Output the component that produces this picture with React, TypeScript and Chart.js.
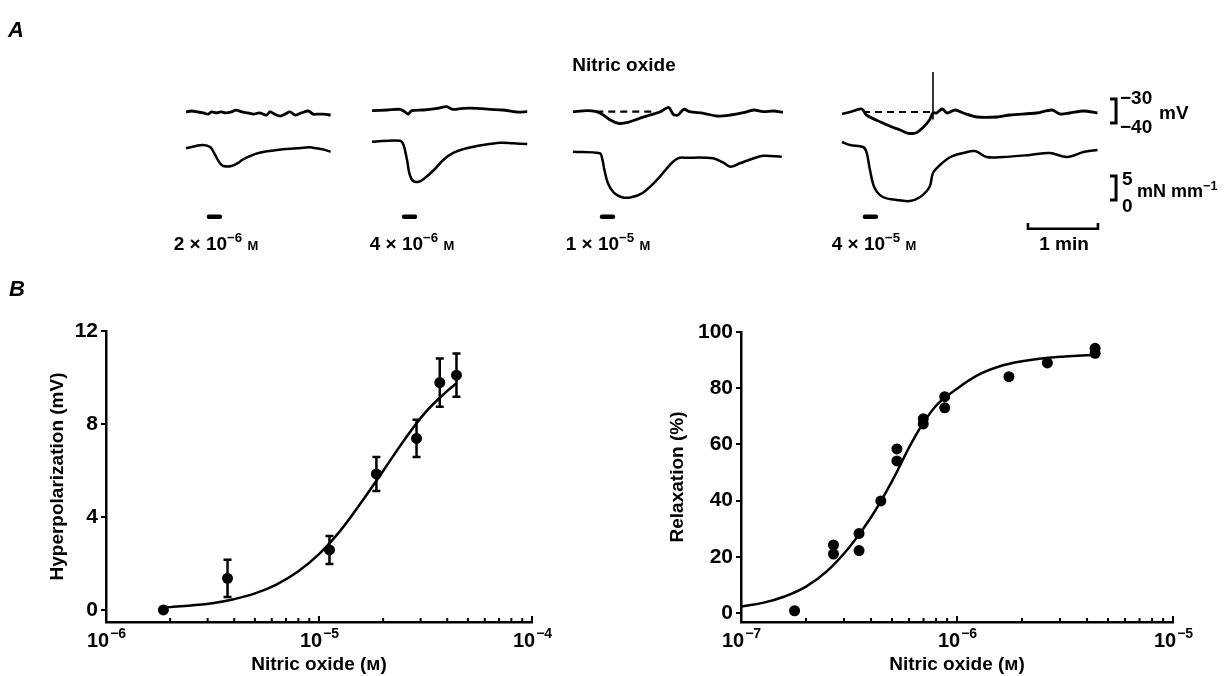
import React, { useEffect, useRef } from "react";
import { Chart, registerables } from "chart.js";

Chart.register(...registerables);

const FONT = "'Liberation Sans', Arial, Helvetica, sans-serif";
const WEIGHT = "bold";

// ---------------- Panel A : recordings (time in s, membrane potential in mV, tension in mN mm^-1) ----------------
const recStartSec = [159.4, 318.9, 491.1, 721.7];
const recDoseLabels = [
  ["2", "6"],
  ["4", "6"],
  ["1", "5"],
  ["4", "5"],
];

const rec1VmT = [0, 5, 10, 15, 19, 22, 26, 30, 34, 39, 43, 48, 53, 58, 63, 69, 72, 76, 81, 85, 89, 94, 99, 105, 109, 113, 118, 124];
const rec1Vm = [-35.4, -35.0, -35.4, -35.8, -36.3, -35.4, -35.8, -35.4, -35.8, -35.4, -34.6, -35.4, -35.8, -36.3, -35.8, -36.7, -35.4, -36.3, -37.1, -36.3, -35.4, -36.7, -35.8, -35.0, -36.3, -36.3, -36.3, -36.7];
const rec1TnT = [0, 14, 21, 25, 29, 32, 39, 45, 48, 55, 63, 78, 95, 106, 112, 117, 124];
const rec1Tn = [10.77, 11.46, 10.98, 9.38, 7.71, 7.08, 7.08, 7.77, 8.33, 9.17, 9.85, 10.42, 10.77, 10.98, 10.77, 10.56, 10.06];

const rec2VmT = [0, 13, 24, 28, 31, 34, 44, 56, 64, 69, 78, 90, 101, 112, 124, 133];
const rec2Vm = [-34.88, -34.58, -34.29, -35.29, -36.25, -34.88, -34.58, -33.88, -33.21, -34.29, -33.88, -33.88, -34.29, -34.58, -35.42, -35.29];
const rec2TnT = [0, 24, 27, 30, 32, 35, 40, 45, 53, 61, 70, 81, 95, 110, 121, 133];
const rec2Tn = [12.15, 12.35, 11.46, 8.33, 5.56, 4.02, 3.81, 4.52, 6.25, 8.33, 9.85, 10.77, 11.46, 11.94, 11.81, 11.67];

const rec3VmT = [0, 12, 20, 26, 32, 39, 46, 57, 66, 75, 82, 86, 90, 95, 100, 112, 123, 135, 146, 155, 163, 172, 180];
const rec3Vm = [-35.29, -34.88, -35.29, -36.67, -38.75, -40.13, -39.88, -38.04, -36.67, -35.29, -33.46, -36.38, -36.67, -34.29, -35.29, -35.96, -37.08, -36.67, -35.71, -34.58, -35.29, -35.0, -35.54];
const rec3TnT = [0, 23, 25, 27, 30, 35, 42, 50, 60, 72, 83, 90, 97, 120, 129, 135, 143, 155, 163, 179];
const rec3Tn = [10.06, 9.73, 8.69, 6.25, 3.48, 1.52, 0.56, 0.56, 1.52, 4.17, 7.29, 8.69, 8.81, 8.69, 7.77, 6.94, 7.65, 8.69, 9.23, 9.02];

const rec4VmT = [0, 7, 17, 21, 33, 43, 50, 56, 63, 69, 75, 78, 81, 86, 90, 97, 104, 116, 133, 144, 167, 180, 187, 195, 207, 219];
const rec4Vm = [-36.25, -35.42, -34.17, -36.67, -39.58, -41.67, -42.92, -44.17, -44.17, -42.08, -38.75, -35.83, -35.83, -34.17, -35.83, -34.58, -35.83, -37.5, -37.5, -36.67, -35.83, -34.58, -36.25, -35.83, -35.0, -35.83];
const rec4TnT = [0, 7, 18, 21, 24, 28, 35, 47, 58, 67, 75, 78, 84, 93, 104, 114, 124, 138, 161, 178, 193, 207, 219];
const rec4Tn = [12.08, 11.46, 11.04, 10.0, 6.25, 2.5, 0.63, 0, -0.21, 0.63, 2.71, 5.63, 7.29, 8.96, 9.79, 10.21, 8.96, 8.96, 9.38, 9.79, 8.96, 10.0, 10.42];

// resting-potential reference (dashed) lines
const baselineRec = [2, 3];
const baselineT0 = [20, 18];
const baselineT1 = [70, 77];
const baselineMv = [-35.29, -35.42];

// artefact spike in recording 4
const spikeT = 78;
const spikeMv = [-38.5, -18.75];

// nitric oxide application (s from recording start), duration s
const appStartT = [19.7, 27.4, 24.9, 19.7];
const appDurSec = 9.4;

// calibration bars
const timeBarSec = 60;
const mvBar = [-30, -40];
const tensionBar = [5, 0];

// ---------------- Panel B left : hyperpolarization ----------------
const hypConc = [1.86e-6, 3.72e-6, 1.12e-5, 1.86e-5, 2.87e-5, 3.69e-5, 4.42e-5];
const hypMean = [0, 1.36, 2.58, 5.85, 7.38, 9.78, 10.1];
const hypSem = [0, 0.8, 0.6, 0.73, 0.8, 1.04, 0.93];
const hypFitConc = [1.86e-6, 2.0e-6, 2.51e-6, 3.16e-6, 3.98e-6, 5.01e-6, 6.31e-6, 7.94e-6, 1.0e-5, 1.26e-5, 1.58e-5, 2.0e-5, 2.51e-5, 3.16e-5, 3.98e-5, 4.42e-5];
const hypFitVal = [0.1, 0.12, 0.19, 0.29, 0.46, 0.71, 1.09, 1.64, 2.4, 3.41, 4.63, 5.98, 7.3, 8.5, 9.4, 9.75];
const hypYTicks = [0, 4, 8, 12];
const hypDecades = [-6, -5, -4];

// ---------------- Panel B right : relaxation ----------------
const relConc = [1.77e-7, 2.68e-7, 2.68e-7, 3.52e-7, 3.52e-7, 4.44e-7, 5.27e-7, 5.27e-7, 6.98e-7, 6.98e-7, 8.77e-7, 8.77e-7, 1.74e-6, 2.62e-6, 4.36e-6, 4.36e-6];
const relVal = [0.8, 24.2, 21.0, 28.3, 22.2, 39.9, 58.4, 54.1, 69.1, 67.3, 77.0, 73.0, 84.1, 89.0, 94.2, 92.4];
const relFitConc = [1.0e-7, 1.26e-7, 1.58e-7, 2.0e-7, 2.51e-7, 3.16e-7, 3.98e-7, 5.01e-7, 6.31e-7, 7.94e-7, 1.0e-6, 1.26e-6, 1.58e-6, 2.0e-6, 2.51e-6, 3.16e-6, 3.98e-6, 4.36e-6];
const relFitVal = [2.3, 3.6, 5.8, 9.4, 15.0, 23.2, 33.8, 47.0, 62.0, 73.5, 79.8, 84.8, 87.8, 89.6, 90.7, 91.3, 91.7, 91.8];
const relYTicks = [0, 20, 40, 60, 80, 100];
const relDecades = [-7, -6, -5];

const minorSteps = [1, 2, 3, 4, 5, 6, 7, 8, 9];

function decadeTicks(decs: number[]) {
  const out: number[] = [];
  decs.forEach((d, i) => {
    if (i === decs.length - 1) out.push(Math.pow(10, d));
    else minorSteps.forEach((m) => out.push(m * Math.pow(10, d)));
  });
  return out;
}

const pts = (xs: number[], ys: number[], off = 0) => xs.map((x, i) => ({ x: x + off, y: ys[i] }));

// ---------------- Plugins ----------------
function logAxisPlugin(decades: number[]) {
  return {
    id: "logAxisDecor",
    afterDraw(chart: any) {
      const xs = chart.scales.x;
      const ctx = chart.ctx;
      const bottom = chart.chartArea.bottom;
      ctx.save();
      ctx.strokeStyle = "#000";
      ctx.lineWidth = 2;
      xs.ticks.forEach((t: any) => {
        const px = xs.getPixelForValue(t.value);
        const e = Math.log10(t.value);
        const major = Math.abs(e - Math.round(e)) < 1e-6;
        const len = major ? 6 : 4;
        ctx.beginPath();
        ctx.moveTo(px, bottom);
        ctx.lineTo(px, bottom - len);
        ctx.stroke();
      });
      ctx.fillStyle = "#000";
      ctx.textBaseline = "middle";
      ctx.textAlign = "left";
      decades.forEach((d) => {
        const px = xs.getPixelForValue(Math.pow(10, d));
        const base = "10";
        const sup = "\u2212" + Math.abs(d);
        ctx.font = `${WEIGHT} 20px ${FONT}`;
        const wb = ctx.measureText(base).width;
        ctx.font = `${WEIGHT} 14px ${FONT}`;
        const ws = ctx.measureText(sup).width;
        const x0 = px - (wb + ws) / 2;
        const y = bottom + 19;
        ctx.font = `${WEIGHT} 20px ${FONT}`;
        ctx.fillText(base, x0, y);
        ctx.font = `${WEIGHT} 14px ${FONT}`;
        ctx.fillText(sup, x0 + wb + 1, y - 7);
      });
      ctx.restore();
    },
  };
}

function errorBarPlugin(xs: number[], ys: number[], es: number[]) {
  return {
    id: "errorBars",
    beforeDatasetsDraw(chart: any) {
      const sx = chart.scales.x;
      const sy = chart.scales.y;
      const ctx = chart.ctx;
      ctx.save();
      ctx.strokeStyle = "#000";
      ctx.lineWidth = 2.5;
      xs.forEach((x, i) => {
        if (!es[i]) return;
        const px = sx.getPixelForValue(x);
        const top = sy.getPixelForValue(ys[i] + es[i]);
        const bot = sy.getPixelForValue(ys[i] - es[i]);
        ctx.beginPath();
        ctx.moveTo(px, top);
        ctx.lineTo(px, bot);
        ctx.moveTo(px - 4, top);
        ctx.lineTo(px + 4, top);
        ctx.moveTo(px - 4, bot);
        ctx.lineTo(px + 4, bot);
        ctx.stroke();
      });
      ctx.restore();
    },
  };
}

// ---------------- Panel A chart ----------------
function TracesChart() {
  const ref = useRef<HTMLCanvasElement>(null);
  useEffect(() => {
    const vmT = [rec1VmT, rec2VmT, rec3VmT, rec4VmT];
    const vm = [rec1Vm, rec2Vm, rec3Vm, rec4Vm];
    const tnT = [rec1TnT, rec2TnT, rec3TnT, rec4TnT];
    const tn = [rec1Tn, rec2Tn, rec3Tn, rec4Tn];
    const ds: any[] = [];
    const base = { showLine: true, borderColor: "#000", pointRadius: 0, fill: false };
    recStartSec.forEach((off, i) => {
      ds.push({ ...base, data: pts(vmT[i], vm[i], off), yAxisID: "mv", borderWidth: 2.8, tension: 0.3 });
      ds.push({ ...base, data: pts(tnT[i], tn[i], off), yAxisID: "tn", borderWidth: 2.5, tension: 0.35 });
      ds.push({
        ...base,
        data: [
          { x: off + appStartT[i], y: -3.5 },
          { x: off + appStartT[i] + appDurSec, y: -3.5 },
        ],
        yAxisID: "tn",
        borderWidth: 4.5,
        tension: 0,
        borderCapStyle: "round",
      });
    });
    baselineRec.forEach((r, j) => {
      const off = recStartSec[r];
      ds.push({
        ...base,
        data: [
          { x: off + baselineT0[j], y: baselineMv[j] },
          { x: off + baselineT1[j], y: baselineMv[j] },
        ],
        yAxisID: "mv",
        borderWidth: 2.2,
        borderDash: [7, 5],
        tension: 0,
      });
    });
    ds.push({
      ...base,
      data: [
        { x: recStartSec[3] + spikeT, y: spikeMv[0] },
        { x: recStartSec[3] + spikeT, y: spikeMv[1] },
      ],
      yAxisID: "mv",
      borderWidth: 1.6,
      tension: 0,
    });
    // calibration bars
    const barX0 = 951.4;
    const barX1 = 956.6;
    ds.push({
      ...base,
      data: [
        { x: barX0, y: mvBar[0] },
        { x: barX1, y: mvBar[0] },
        { x: barX1, y: mvBar[1] },
        { x: barX0, y: mvBar[1] },
      ],
      yAxisID: "mv",
      borderWidth: 3,
      tension: 0,
    });
    ds.push({
      ...base,
      data: [
        { x: barX0, y: tensionBar[0] },
        { x: barX1, y: tensionBar[0] },
        { x: barX1, y: tensionBar[1] },
        { x: barX0, y: tensionBar[1] },
      ],
      yAxisID: "tn",
      borderWidth: 3,
      tension: 0,
    });
    const tb0 = 881.1;
    ds.push({
      ...base,
      data: [
        { x: tb0, y: -4.8 },
        { x: tb0, y: -6.0 },
        { x: tb0 + timeBarSec, y: -6.0 },
        { x: tb0 + timeBarSec, y: -4.8 },
      ],
      yAxisID: "tn",
      borderWidth: 2.6,
      tension: 0,
    });

    const chart = new Chart(ref.current!, {
      type: "scatter",
      data: { datasets: ds },
      options: {
        animation: false,
        responsive: false,
        devicePixelRatio: 1,
        events: [],
        layout: { padding: 0 },
        plugins: { legend: { display: false }, tooltip: { enabled: false } },
        scales: {
          x: { type: "linear", min: 0, max: 1049.14, display: false },
          y: { type: "linear", display: false },
          mv: { type: "linear", min: -97.08, max: 11.25, display: false },
          tn: { type: "linear", min: -12.5, max: 41.67, display: false },
        },
      } as any,
    });
    return () => chart.destroy();
  }, []);
  return <canvas ref={ref} width={1224} height={260} style={{ position: "absolute", left: 0, top: 0 }} />;
}

// ---------------- Panel B charts ----------------
function DoseChart(props: {
  left: number;
  top: number;
  width: number;
  height: number;
  padTop: number;
  padRight: number;
  axisW: number;
  axisH: number;
  yMin: number;
  yMax: number;
  yTicks: number[];
  decades: number[];
  yTitle: string;
  yTitlePad: number;
  fitX: number[];
  fitY: number[];
  px: number[];
  py: number[];
  pe?: number[];
}) {
  const ref = useRef<HTMLCanvasElement>(null);
  useEffect(() => {
    const p = props;
    const xTicks = decadeTicks(p.decades);
    const plugins: any[] = [logAxisPlugin(p.decades)];
    if (p.pe) plugins.push(errorBarPlugin(p.px, p.py, p.pe));
    const chart = new Chart(ref.current!, {
      type: "scatter",
      data: {
        datasets: [
          {
            data: pts(p.fitX, p.fitY),
            showLine: true,
            borderColor: "#000",
            borderWidth: 2.5,
            pointRadius: 0,
            tension: 0.4,
            fill: false,
          },
          {
            data: pts(p.px, p.py),
            showLine: false,
            pointRadius: 5.5,
            pointBackgroundColor: "#000",
            pointBorderWidth: 0,
          },
        ],
      },
      options: {
        animation: false,
        responsive: false,
        devicePixelRatio: 1,
        events: [],
        layout: { padding: { left: 0, top: p.padTop, right: p.padRight, bottom: 0 } },
        plugins: { legend: { display: false }, tooltip: { enabled: false } },
        scales: {
          x: {
            type: "logarithmic",
            min: Math.pow(10, p.decades[0]),
            max: Math.pow(10, p.decades[p.decades.length - 1]),
            afterBuildTicks: (ax: any) => {
              ax.ticks = xTicks.map((v) => ({ value: v }));
            },
            afterFit: (ax: any) => {
              ax.height = p.axisH;
            },
            grid: { display: false },
            border: { display: true, color: "#000", width: 2.5 },
            ticks: { display: false },
            title: {
              display: true,
              text: "Nitric oxide (\u1D0D)",
              color: "#000",
              font: { family: FONT, size: 19, weight: WEIGHT },
              padding: { top: 0, bottom: 0 },
            },
          },
          y: {
            type: "linear",
            min: p.yMin,
            max: p.yMax,
            afterBuildTicks: (ax: any) => {
              ax.ticks = p.yTicks.map((v) => ({ value: v }));
            },
            afterFit: (ax: any) => {
              ax.width = p.axisW;
            },
            grid: {
              drawOnChartArea: false,
              drawTicks: true,
              tickLength: 5,
              color: "#000",
              tickColor: "#000",
              tickWidth: 2,
              lineWidth: 2,
            },
            border: { display: true, color: "#000", width: 2.5 },
            ticks: { color: "#000", font: { family: FONT, size: 21, weight: WEIGHT }, padding: 3 },
            title: {
              display: true,
              text: p.yTitle,
              color: "#000",
              font: { family: FONT, size: 19, weight: WEIGHT },
              padding: { top: p.yTitlePad, bottom: 0 },
            },
          },
        },
      } as any,
      plugins,
    });
    return () => chart.destroy();
  }, []);
  return (
    <canvas
      ref={ref}
      width={props.width}
      height={props.height}
      style={{ position: "absolute", left: props.left, top: props.top }}
    />
  );
}

// ---------------- Text helpers ----------------
function Txt(props: { x: number; y: number; size?: number; align?: "center" | "left"; style?: any; children: any }) {
  const { x, y, size = 19, align = "center", style, children } = props;
  return (
    <div
      style={{
        position: "absolute",
        left: x,
        top: y,
        transform: `translate(${align === "center" ? "-50%" : "0"}, -50%)`,
        fontSize: size,
        lineHeight: 1,
        whiteSpace: "nowrap",
        fontWeight: WEIGHT,
        ...style,
      }}
    >
      {children}
    </div>
  );
}

const Sup = (p: { children: any }) => (
  <span style={{ fontSize: "0.7em", verticalAlign: "0.55em", lineHeight: 0 }}>{p.children}</span>
);
const SmallM = () => <span style={{ fontVariant: "small-caps" }}>m</span>;

const doseCenters = [216, 412, 608, 874];

export default function App() {
  return (
    <div
      style={{
        position: "absolute",
        left: 0,
        top: 0,
        width: 1224,
        height: 676,
        background: "#fff",
        overflow: "hidden",
        fontFamily: FONT,
        color: "#000",
      }}
    >
      <TracesChart />
      <DoseChart
        left={0}
        top={300}
        width={560}
        height={376}
        padTop={31}
        padRight={28}
        axisW={106}
        axisH={54}
        yMin={-0.52}
        yMax={12}
        yTicks={hypYTicks}
        decades={hypDecades}
        yTitle="Hyperpolarization (mV)"
        yTitlePad={46}
        fitX={hypFitConc}
        fitY={hypFitVal}
        px={hypConc}
        py={hypMean}
        pe={hypSem}
      />
      <DoseChart
        left={600}
        top={300}
        width={624}
        height={376}
        padTop={32}
        padRight={51}
        axisW={141}
        axisH={54}
        yMin={-3.2}
        yMax={100}
        yTicks={relYTicks}
        decades={relDecades}
        yTitle="Relaxation (%)"
        yTitlePad={66}
        fitX={relFitConc}
        fitY={relFitVal}
        px={relConc}
        py={relVal}
      />

      <Txt x={16} y={30} size={22} style={{ fontStyle: "italic" }}>A</Txt>
      <Txt x={17} y={289} size={22} style={{ fontStyle: "italic" }}>B</Txt>
      <Txt x={624} y={64}>Nitric oxide</Txt>

      {recDoseLabels.map((d, i) => (
        <Txt key={i} x={doseCenters[i]} y={243}>
          {d[0]} × 10<Sup>{"\u2212" + d[1]}</Sup> <SmallM />
        </Txt>
      ))}
      <Txt x={1064} y={243}>1 min</Txt>

      <Txt x={1120} y={97} align="left">{"\u2212"}30</Txt>
      <Txt x={1159} y={112} align="left">mV</Txt>
      <Txt x={1120} y={126} align="left">{"\u2212"}40</Txt>
      <Txt x={1122} y={178} align="left">5</Txt>
      <Txt x={1137} y={191} align="left" size={18}>
        mN mm<Sup>{"\u2212"}1</Sup>
      </Txt>
      <Txt x={1122} y={205} align="left">0</Txt>
    </div>
  );
}
